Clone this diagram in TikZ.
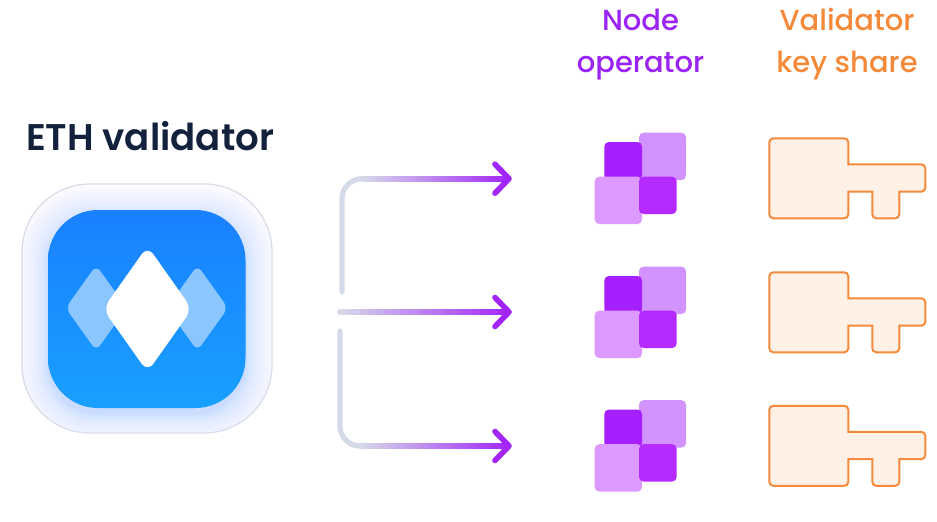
\documentclass[tikz,border=0pt]{standalone}
\usepackage{fontspec}
\setmainfont{Poppins Medium}
\newfontfamily\headfont{Poppins SemiBold}
\usetikzlibrary{calc}
\definecolor{lightA}{HTML}{D293FF}
\definecolor{lightB}{HTML}{DC99FF}
\definecolor{darkA}{HTML}{A51FFF}
\definecolor{darkB}{HTML}{B52BFF}
\definecolor{linegrey}{HTML}{D5DAE8}
\definecolor{linepurple}{HTML}{A225FA}
\definecolor{keyline}{HTML}{F58A3C}
\definecolor{keyfill}{HTML}{FFF1E6}
\definecolor{rimgrey}{HTML}{DADDEA}
\definecolor{glow}{HTML}{7FA0FF}
\definecolor{bluetop}{HTML}{1A80FF}
\definecolor{bluebot}{HTML}{18A0FF}
\definecolor{sidediamond}{HTML}{8CC6FF}
\definecolor{opcolor}{HTML}{9B24F5}
\definecolor{sharecolor}{HTML}{F5893A}
\definecolor{headcolor}{HTML}{14213D}
\tikzset{
  x=1pt,y=-1pt,
  tile/.style={rounded corners=4.5pt},
  wire/.style={draw=linegrey,line width=5.2pt,line cap=round},
  tipline/.style={draw=linepurple,line width=5.6pt,line cap=round,line join=round},
  keyshape/.style={draw=keyline,fill=keyfill,line width=2pt},
  lbl/.style={font=\fontsize{29}{42}\selectfont,align=center,inner sep=0pt},
  flowbar/.style={left color=linegrey,right color=linepurple},
}
\newcommand{\opicon}[1]{%
  \begin{scope}[yshift=-#1pt]
    \fill[lightA,tile] (639,132.7) rectangle (686,180);
    \fill[darkA,tile] (604.3,142) rectangle (642,180);
    \fill[lightB,tile] (594.7,176.7) rectangle (642,224);
    \fill[darkB,tile] (639,176.7) rectangle (676.7,214);
  \end{scope}}
\newcommand{\keyicon}[1]{%
  \begin{scope}[yshift=-#1pt]
    \draw[keyshape] (773.3,138.3) -- (844.3,138.3) arc[start angle=-90,end angle=0,radius=4] -- (848.3,164.3) -- (921.3,164.3) arc[start angle=-90,end angle=0,radius=4] -- (925.3,187.7) arc[start angle=0,end angle=90,radius=4] -- (899.3,191.7) -- (899.3,214.3) arc[start angle=0,end angle=90,radius=4] -- (876.3,218.3) arc[start angle=90,end angle=180,radius=4] -- (872.3,191.7) -- (848.3,191.7) -- (848.3,214.3) arc[start angle=0,end angle=90,radius=4] -- (773.3,218.3) arc[start angle=90,end angle=180,radius=4] -- (769.3,142.3) arc[start angle=180,end angle=270,radius=4] -- cycle;
  \end{scope}}
\begin{document}
\begin{tikzpicture}
\useasboundingbox (0,0) rectangle (937,522);
\fill[white] (0,0) rectangle (937,522);
% outer rim with glow
\begin{scope}
  \clip[rounded corners=68pt] (22,184) rectangle (272,433);
  \foreach \g in {30,29,...,1}{
    \pgfmathsetmacro{\d}{\g*\g*0.035}
    \fill[glow,opacity=0.011,rounded corners={50pt+\d*0.6pt}] ({48-\d},{210-\d+6}) rectangle ({245.5+\d},{408+\d+6});
  }
\end{scope}
\draw[rimgrey,line width=1.3pt,rounded corners=68pt] (22,184) rectangle (272,433);
\shade[top color=bluetop,bottom color=bluebot,rounded corners=50pt] (48,210) rectangle (245.5,408);
\node[inner sep=0pt,minimum size=0pt] (validator) at (147,309) {};
% diamonds
\fill[sidediamond,rounded corners=7pt] (96.2,265.2) -- (65.7,308) -- (96.2,350.8) -- (126.7,308) -- cycle;
\fill[sidediamond,rounded corners=7pt] (197.4,265.2) -- (166.9,308) -- (197.4,350.8) -- (227.9,308) -- cycle;
\fill[white,rounded corners=10pt] (147.5,246) -- (103,309) -- (147.5,372) -- (192,309) -- cycle;
% connectors
\coordinate (t0) at (342,291.7);
\coordinate (t1) at (342,178.7);
\coordinate (t2) at (362,178.7);
\coordinate (ttip) at (509,178.7);
\coordinate (m0) at (340,312);
\coordinate (mtip) at (509,312);
\coordinate (b0) at (340,331);
\coordinate (b1) at (340,446);
\coordinate (b2) at (360,446);
\coordinate (btip) at (509,446);
\draw[wire,rounded corners=20pt] (t0) -- (t1) -- ($(t2)+(1,0)$);
\draw[wire,rounded corners=20pt] (b0) -- (b1) -- ($(b2)+(1,0)$);
\draw[wire] (m0) -- ++(2,0);
\shade[flowbar] ($(t2)+(0,-2.6)$) rectangle ($(ttip)+(0,2.6)$);
\shade[flowbar] ($(m0)+(0,-2.6)$) rectangle ($(mtip)+(0,2.6)$);
\shade[flowbar] ($(b2)+(0,-2.6)$) rectangle ($(btip)+(0,2.6)$);
\foreach \c in {ttip,mtip,btip}{
  \draw[tipline] ($(\c)+(-14,-14.5)$) -- (\c) -- ($(\c)+(-14,14.5)$);
}
% icons
\opicon{0}\opicon{134}\opicon{267.5}
\keyicon{0}\keyicon{134}\keyicon{267.5}
% text
\node[lbl,text=headcolor,font=\fontsize{37.1}{42}\headfont,anchor=base west] (title) at (26,150) {ETH validator};
\node[lbl,text=opcolor,anchor=base] (op1) at (640.5,30) {Node};
\node[lbl,text=opcolor,anchor=base] (op2) at (640.5,72) {operator};
\node[lbl,text=sharecolor,anchor=base] (k1) at (847,30) {Validator};
\node[lbl,text=sharecolor,anchor=base] (k2) at (847,72) {key share};
\end{tikzpicture}
\end{document}
